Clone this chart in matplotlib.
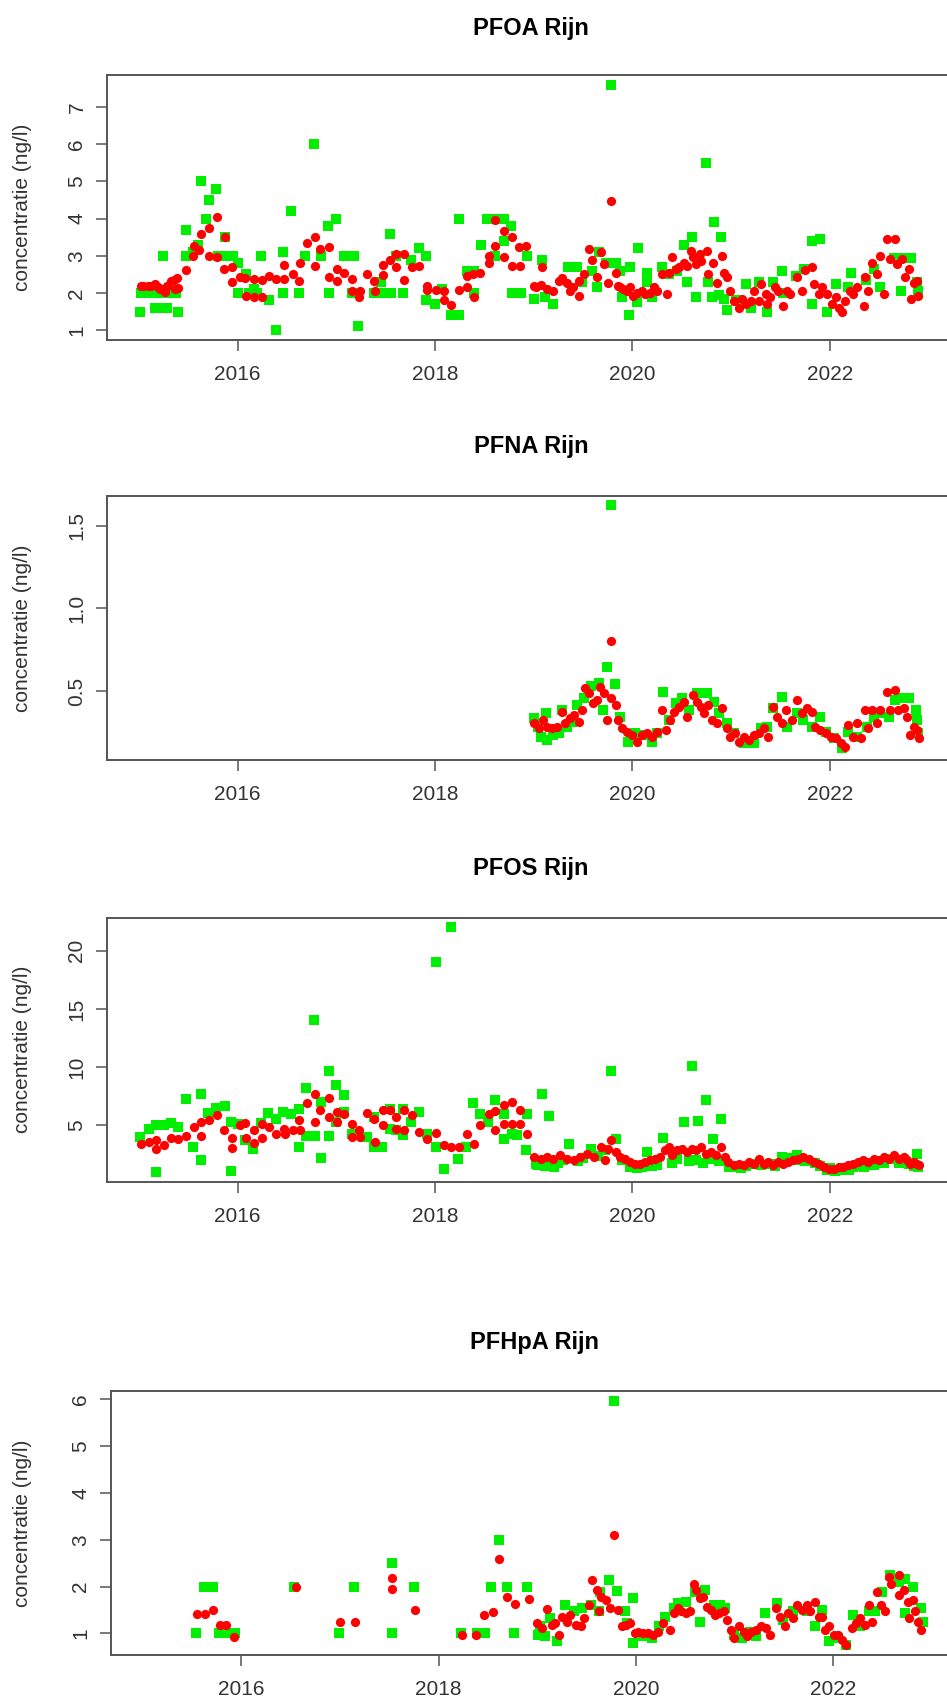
import numpy as np
import matplotlib
matplotlib.use("Agg")
import matplotlib.pyplot as plt

plt.rcParams['font.family'] = ['Liberation Sans', 'DejaVu Sans']

# ---- PFOA Rijn ----
pfoa_groen_jaar = [2015.01, 2015.02, 2015.08, 2015.12, 2015.16, 2015.20, 2015.22, 2015.24, 2015.28, 2015.30,
                   2015.35, 2015.38, 2015.40, 2015.48, 2015.48, 2015.55, 2015.60, 2015.63, 2015.68, 2015.71,
                   2015.78, 2015.80, 2015.87, 2015.90, 2015.95, 2016.00, 2016.00, 2016.09, 2016.12, 2016.17,
                   2016.20, 2016.24, 2016.32, 2016.39, 2016.46, 2016.46, 2016.54, 2016.62, 2016.68, 2016.77,
                   2016.85, 2016.92, 2016.93, 2017.00, 2017.08, 2017.12, 2017.16, 2017.18, 2017.22, 2017.38,
                   2017.45, 2017.47, 2017.54, 2017.55, 2017.61, 2017.68, 2017.76, 2017.84, 2017.91, 2017.91,
                   2018.00, 2018.07, 2018.16, 2018.24, 2018.24, 2018.33, 2018.40, 2018.40, 2018.47, 2018.53,
                   2018.61, 2018.61, 2018.70, 2018.70, 2018.77, 2018.78, 2018.86, 2018.87, 2018.93, 2019.00,
                   2019.09, 2019.12, 2019.20, 2019.35, 2019.44, 2019.49, 2019.59, 2019.64, 2019.66, 2019.73,
                   2019.78, 2019.83, 2019.88, 2019.90, 2019.97, 2019.98, 2020.05, 2020.06, 2020.15, 2020.15,
                   2020.20, 2020.30, 2020.37, 2020.45, 2020.52, 2020.55, 2020.60, 2020.65, 2020.75, 2020.77,
                   2020.81, 2020.83, 2020.88, 2020.90, 2020.93, 2020.96, 2021.05, 2021.15, 2021.20, 2021.28,
                   2021.36, 2021.43, 2021.52, 2021.53, 2021.66, 2021.74, 2021.82, 2021.82, 2021.90, 2021.97,
                   2022.06, 2022.19, 2022.22, 2022.37, 2022.45, 2022.51, 2022.65, 2022.72, 2022.74, 2022.82,
                   2022.88, 2022.90]
pfoa_groen_val = [1.5, 2.0, 2.0, 2.0, 1.6, 2.0, 1.6, 3.0, 1.6, 2.0,
                  2.0, 2.0, 1.5, 3.7, 3.0, 3.1, 3.3, 5.0, 4.0, 4.5,
                  4.8, 3.0, 3.5, 3.0, 3.0, 2.8, 2.0, 2.5, 2.0, 2.1,
                  2.0, 3.0, 1.8, 1.0, 3.1, 2.0, 4.2, 2.0, 3.0, 6.0,
                  3.0, 3.8, 2.0, 4.0, 3.0, 3.0, 2.0, 3.0, 1.1, 2.0,
                  2.3, 2.0, 3.6, 2.0, 3.0, 2.0, 2.9, 3.2, 3.0, 1.8,
                  1.7, 2.1, 1.4, 1.4, 4.0, 2.6, 2.6, 2.0, 3.3, 4.0,
                  4.0, 3.0, 4.0, 3.4, 3.8, 2.0, 2.0, 2.0, 3.0, 1.85,
                  2.9, 1.9, 1.7, 2.7, 2.7, 2.3, 2.6, 2.15, 3.1, 2.8,
                  7.6, 2.8, 2.6, 1.9, 1.4, 2.7, 1.75, 3.2, 2.55, 2.3,
                  1.9, 2.7, 2.5, 2.6, 3.3, 2.3, 3.5, 1.9, 5.5, 2.3,
                  1.9, 3.9, 1.95, 3.5, 1.85, 1.55, 1.8, 2.25, 1.6, 2.3,
                  1.5, 2.3, 2.6, 2.0, 2.45, 2.65, 3.4, 1.7, 3.45, 1.5,
                  2.25, 2.15, 2.55, 2.35, 2.65, 2.15, 2.95, 2.05, 2.95, 2.95,
                  2.3, 2.05]
pfoa_rood_jaar = [2015.02, 2015.04, 2015.09, 2015.12, 2015.16, 2015.19, 2015.21, 2015.23, 2015.26, 2015.29,
                  2015.33, 2015.36, 2015.37, 2015.39, 2015.40, 2015.48, 2015.55, 2015.56, 2015.61, 2015.63,
                  2015.71, 2015.71, 2015.79, 2015.79, 2015.86, 2015.87, 2015.94, 2015.94, 2016.02, 2016.08,
                  2016.09, 2016.17, 2016.17, 2016.25, 2016.25, 2016.32, 2016.39, 2016.47, 2016.47, 2016.56,
                  2016.62, 2016.63, 2016.70, 2016.78, 2016.78, 2016.84, 2016.93, 2016.93, 2017.01, 2017.01,
                  2017.08, 2017.16, 2017.16, 2017.23, 2017.24, 2017.31, 2017.38, 2017.39, 2017.47, 2017.47,
                  2017.54, 2017.61, 2017.61, 2017.69, 2017.69, 2017.77, 2017.84, 2017.92, 2017.92, 2018.01,
                  2018.09, 2018.09, 2018.16, 2018.24, 2018.32, 2018.32, 2018.39, 2018.40, 2018.46, 2018.55,
                  2018.55, 2018.61, 2018.61, 2018.70, 2018.70, 2018.78, 2018.78, 2018.85, 2018.86, 2018.92,
                  2019.00, 2019.02, 2019.07, 2019.09, 2019.14, 2019.20, 2019.26, 2019.29, 2019.34, 2019.37,
                  2019.40, 2019.46, 2019.46, 2019.51, 2019.56, 2019.59, 2019.64, 2019.68, 2019.71, 2019.75,
                  2019.78, 2019.83, 2019.86, 2019.88, 2019.91, 2019.95, 2019.98, 2020.01, 2020.05, 2020.10,
                  2020.13, 2020.18, 2020.22, 2020.25, 2020.30, 2020.35, 2020.37, 2020.40, 2020.44, 2020.47,
                  2020.52, 2020.55, 2020.59, 2020.62, 2020.65, 2020.69, 2020.70, 2020.76, 2020.77, 2020.82,
                  2020.86, 2020.91, 2020.93, 2020.96, 2020.99, 2021.03, 2021.08, 2021.11, 2021.15, 2021.20,
                  2021.23, 2021.28, 2021.30, 2021.35, 2021.36, 2021.40, 2021.45, 2021.48, 2021.53, 2021.57,
                  2021.60, 2021.67, 2021.72, 2021.75, 2021.82, 2021.84, 2021.89, 2021.92, 2021.97, 2022.02,
                  2022.06, 2022.09, 2022.12, 2022.16, 2022.21, 2022.24, 2022.28, 2022.35, 2022.36, 2022.39,
                  2022.43, 2022.48, 2022.51, 2022.55, 2022.58, 2022.61, 2022.66, 2022.68, 2022.73, 2022.76,
                  2022.80, 2022.82, 2022.85, 2022.88, 2022.90]
pfoa_rood_val = [2.18, 2.2, 2.18, 2.2, 2.24, 2.15, 2.1, 2.1, 2.04, 2.2,
                 2.33, 2.35, 2.1, 2.4, 2.13, 2.63, 3.0, 3.26, 3.17, 3.6,
                 3.75, 3.0, 4.04, 2.96, 2.64, 3.5, 2.69, 2.3, 2.42, 2.4,
                 1.93, 2.37, 1.9, 2.36, 1.9, 2.45, 2.37, 2.37, 2.76, 2.51,
                 2.33, 2.8, 3.34, 3.5, 2.72, 3.18, 3.23, 2.44, 2.33, 2.64,
                 2.55, 2.37, 2.06, 1.9, 2.06, 2.51, 2.33, 2.06, 2.49, 2.76,
                 2.9, 2.69, 3.05, 3.05, 2.36, 2.69, 2.72, 2.2, 2.08, 2.08,
                 2.06, 1.82, 1.67, 2.08, 2.47, 2.15, 2.51, 1.88, 2.54, 2.8,
                 3.0, 3.27, 3.96, 3.68, 2.96, 3.5, 2.73, 3.23, 2.72, 3.26,
                 2.2, 2.15, 2.22, 2.69, 2.12, 2.06, 2.33, 2.4, 2.28, 2.06,
                 2.15, 2.33, 1.93, 2.51, 3.18, 2.89, 2.42, 3.09, 2.78, 2.28,
                 4.47, 2.55, 2.2, 2.15, 2.1, 2.06, 2.15, 1.93, 2.0, 2.06,
                 1.97, 2.0, 2.15, 2.06, 2.51, 1.97, 2.55, 2.96, 2.64, 2.69,
                 2.82, 2.73, 3.14, 2.96, 2.78, 3.05, 2.87, 3.14, 2.51, 2.82,
                 2.28, 3.0, 2.55, 2.42, 2.06, 1.79, 1.61, 1.84, 1.7, 1.79,
                 2.06, 1.79, 2.24, 1.97, 1.7, 1.88, 2.15, 2.06, 1.66, 2.06,
                 1.97, 2.44, 2.06, 2.62, 2.69, 2.24, 1.97, 2.15, 1.97, 1.7,
                 1.88, 1.61, 1.48, 1.79, 2.06, 1.97, 2.15, 1.66, 2.42, 2.06,
                 2.82, 2.51, 3.0, 1.97, 3.45, 2.91, 3.45, 2.78, 2.91, 2.42,
                 2.64, 1.84, 2.28, 2.33, 1.93]

# ---- PFNA Rijn ----
pfna_groen_jaar = [2019.00, 2019.04, 2019.07, 2019.13, 2019.14, 2019.20, 2019.26, 2019.29, 2019.34, 2019.39,
                   2019.44, 2019.51, 2019.58, 2019.66, 2019.70, 2019.74, 2019.78, 2019.82, 2019.88, 2019.96,
                   2020.03, 2020.11, 2020.20, 2020.25, 2020.31, 2020.37, 2020.44, 2020.50, 2020.57, 2020.66,
                   2020.76, 2020.83, 2020.88, 2020.96, 2021.03, 2021.13, 2021.23, 2021.30, 2021.37, 2021.43,
                   2021.52, 2021.57, 2021.67, 2021.73, 2021.82, 2021.90, 2021.96, 2022.04, 2022.12, 2022.19,
                   2022.28, 2022.38, 2022.45, 2022.51, 2022.60, 2022.66, 2022.71, 2022.80, 2022.87, 2022.88,
                   2022.90]
pfna_groen_val = [0.334, 0.284, 0.223, 0.365, 0.203, 0.233, 0.243, 0.385, 0.284, 0.314,
                  0.415, 0.456, 0.532, 0.546, 0.385, 0.643, 1.627, 0.54, 0.344, 0.193,
                  0.243, 0.233, 0.193, 0.243, 0.492, 0.324, 0.425, 0.456, 0.385, 0.486,
                  0.486, 0.435, 0.365, 0.304, 0.243, 0.183, 0.183, 0.274, 0.284, 0.395,
                  0.466, 0.284, 0.365, 0.324, 0.284, 0.34, 0.253, 0.213, 0.153, 0.253,
                  0.223, 0.284, 0.344, 0.365, 0.344, 0.446, 0.456, 0.456, 0.385, 0.324,
                  0.243]
pfna_rood_jaar = [2019.00, 2019.05, 2019.10, 2019.14, 2019.19, 2019.24, 2019.29, 2019.32, 2019.37, 2019.41,
                  2019.46, 2019.49, 2019.52, 2019.56, 2019.60, 2019.64, 2019.67, 2019.71, 2019.74, 2019.78,
                  2019.78, 2019.83, 2019.86, 2019.90, 2019.95, 2020.00, 2020.05, 2020.10, 2020.15, 2020.20,
                  2020.25, 2020.30, 2020.34, 2020.38, 2020.42, 2020.47, 2020.52, 2020.55, 2020.62, 2020.66,
                  2020.70, 2020.73, 2020.77, 2020.81, 2020.86, 2020.91, 2020.96, 2020.99, 2021.04, 2021.08,
                  2021.13, 2021.18, 2021.23, 2021.28, 2021.33, 2021.38, 2021.43, 2021.47, 2021.52, 2021.56,
                  2021.62, 2021.67, 2021.72, 2021.77, 2021.82, 2021.85, 2021.90, 2021.96, 2022.01, 2022.06,
                  2022.11, 2022.16, 2022.19, 2022.24, 2022.28, 2022.32, 2022.36, 2022.39, 2022.43, 2022.48,
                  2022.51, 2022.58, 2022.61, 2022.66, 2022.69, 2022.75, 2022.78, 2022.81, 2022.85, 2022.88,
                  2022.91]
pfna_rood_val = [0.304, 0.274, 0.324, 0.284, 0.274, 0.284, 0.375, 0.304, 0.334, 0.355,
                 0.314, 0.385, 0.516, 0.486, 0.425, 0.446, 0.526, 0.486, 0.324, 0.456,
                 0.80, 0.415, 0.324, 0.274, 0.253, 0.233, 0.193, 0.233, 0.243, 0.223,
                 0.253, 0.385, 0.264, 0.324, 0.375, 0.405, 0.435, 0.344, 0.476, 0.435,
                 0.405, 0.365, 0.415, 0.324, 0.304, 0.395, 0.274, 0.223, 0.243, 0.193,
                 0.223, 0.203, 0.233, 0.243, 0.274, 0.223, 0.405, 0.344, 0.304, 0.385,
                 0.324, 0.446, 0.365, 0.395, 0.375, 0.284, 0.264, 0.243, 0.223, 0.213,
                 0.183, 0.163, 0.294, 0.223, 0.304, 0.213, 0.385, 0.274, 0.385, 0.304,
                 0.385, 0.496, 0.385, 0.506, 0.385, 0.395, 0.344, 0.233, 0.284, 0.264,
                 0.213]

# ---- PFOS Rijn ----
pfos_groen_jaar = [2015.01, 2015.10, 2015.17, 2015.17, 2015.25, 2015.33, 2015.40, 2015.48, 2015.55, 2015.63,
                   2015.63, 2015.70, 2015.78, 2015.87, 2015.93, 2015.93, 2016.00, 2016.08, 2016.16, 2016.24,
                   2016.31, 2016.39, 2016.46, 2016.54, 2016.62, 2016.62, 2016.69, 2016.69, 2016.77, 2016.78,
                   2016.85, 2016.85, 2016.93, 2016.93, 2017.00, 2017.00, 2017.08, 2017.08, 2017.16, 2017.23,
                   2017.31, 2017.38, 2017.38, 2017.46, 2017.54, 2017.54, 2017.61, 2017.68, 2017.68, 2017.76,
                   2017.84, 2017.92, 2018.01, 2018.01, 2018.09, 2018.16, 2018.23, 2018.31, 2018.39, 2018.46,
                   2018.54, 2018.61, 2018.70, 2018.70, 2018.78, 2018.83, 2018.92, 2018.93, 2019.02, 2019.04,
                   2019.09, 2019.12, 2019.16, 2019.21, 2019.25, 2019.30, 2019.36, 2019.45, 2019.50, 2019.58,
                   2019.65, 2019.72, 2019.78, 2019.83, 2019.90, 2019.98, 2020.05, 2020.10, 2020.15, 2020.20,
                   2020.25, 2020.31, 2020.40, 2020.45, 2020.52, 2020.57, 2020.60, 2020.65, 2020.67, 2020.72,
                   2020.75, 2020.78, 2020.82, 2020.88, 2020.90, 2020.98, 2021.05, 2021.10, 2021.15, 2021.23,
                   2021.30, 2021.40, 2021.45, 2021.52, 2021.60, 2021.67, 2021.70, 2021.75, 2021.85, 2021.90,
                   2021.97, 2022.00, 2022.05, 2022.10, 2022.20, 2022.24, 2022.30, 2022.35, 2022.45, 2022.55,
                   2022.60, 2022.70, 2022.75, 2022.80, 2022.85, 2022.88, 2022.90]
pfos_groen_val = [4.0, 4.7, 1.0, 5.0, 5.0, 5.2, 4.86, 7.24, 3.14, 7.73,
                  2.05, 6.1, 6.5, 6.66, 1.04, 5.29, 5.14, 3.7, 3.0, 5.2,
                  6.1, 5.57, 6.15, 6.0, 6.43, 3.14, 8.24, 4.08, 14.04, 4.08,
                  7.0, 2.19, 9.68, 4.08, 8.44, 5.29, 7.64, 6.15, 4.28, 4.14,
                  4.0, 3.14, 5.72, 3.14, 6.43, 4.71, 4.57, 6.43, 4.14, 5.29,
                  6.15, 4.28, 19.06, 3.14, 1.27, 22.07, 2.13, 3.14, 6.95, 6.0,
                  5.29, 7.15, 6.0, 3.8, 4.28, 4.14, 2.85, 6.0, 1.7, 1.6,
                  7.67, 1.5, 5.8, 1.41, 1.8, 2.0, 3.4, 1.9, 2.2, 2.99,
                  2.4, 2.9, 9.68, 3.85, 2.0, 1.41, 1.3, 1.4, 2.7, 1.5,
                  1.6, 3.9, 1.8, 2.1, 5.29, 1.9, 10.1, 2.0, 5.37, 1.8,
                  7.15, 2.1, 3.85, 1.9, 5.57, 1.41, 1.4, 1.3, 1.5, 1.7,
                  1.6, 1.7, 1.5, 2.27, 2.2, 2.42, 2.0, 1.9, 1.8, 1.5,
                  1.13, 1.3, 1.1, 1.2, 1.2, 1.41, 1.5, 1.4, 1.6, 1.8,
                  2.1, 1.8, 2.0, 1.7, 1.5, 2.5, 1.41]
pfos_rood_jaar = [2015.02, 2015.10, 2015.17, 2015.17, 2015.25, 2015.33, 2015.40, 2015.48, 2015.56, 2015.63,
                  2015.63, 2015.71, 2015.79, 2015.86, 2015.94, 2015.94, 2016.02, 2016.08, 2016.09, 2016.17,
                  2016.17, 2016.25, 2016.25, 2016.32, 2016.39, 2016.47, 2016.48, 2016.56, 2016.62, 2016.63,
                  2016.70, 2016.78, 2016.78, 2016.84, 2016.93, 2016.93, 2017.01, 2017.01, 2017.08, 2017.16,
                  2017.16, 2017.23, 2017.24, 2017.31, 2017.38, 2017.39, 2017.47, 2017.47, 2017.54, 2017.61,
                  2017.61, 2017.69, 2017.69, 2017.77, 2017.84, 2017.92, 2018.01, 2018.09, 2018.16, 2018.24,
                  2018.32, 2018.40, 2018.46, 2018.55, 2018.61, 2018.61, 2018.70, 2018.70, 2018.78, 2018.78,
                  2018.86, 2018.86, 2018.93, 2019.00, 2019.07, 2019.14, 2019.20, 2019.27, 2019.34, 2019.41,
                  2019.47, 2019.54, 2019.61, 2019.68, 2019.72, 2019.75, 2019.78, 2019.83, 2019.88, 2019.93,
                  2019.98, 2020.03, 2020.08, 2020.13, 2020.18, 2020.23, 2020.28, 2020.33, 2020.37, 2020.40,
                  2020.45, 2020.50, 2020.55, 2020.60, 2020.65, 2020.70, 2020.75, 2020.80, 2020.85, 2020.90,
                  2020.94, 2020.97, 2021.03, 2021.08, 2021.13, 2021.18, 2021.23, 2021.28, 2021.33, 2021.38,
                  2021.43, 2021.48, 2021.53, 2021.58, 2021.63, 2021.68, 2021.73, 2021.79, 2021.84, 2021.89,
                  2021.94, 2021.99, 2022.04, 2022.09, 2022.14, 2022.19, 2022.24, 2022.29, 2022.34, 2022.39,
                  2022.45, 2022.50, 2022.55, 2022.60, 2022.65, 2022.70, 2022.75, 2022.78, 2022.81, 2022.85,
                  2022.88, 2022.91]
pfos_rood_val = [3.42, 3.57, 3.0, 3.71, 3.28, 3.94, 3.8, 4.08, 4.86, 4.08,
                 5.29, 5.43, 5.86, 4.57, 3.91, 3.08, 5.0, 5.2, 3.94, 4.57,
                 3.48, 5.14, 3.94, 4.86, 4.28, 4.71, 4.28, 4.57, 5.49, 4.57,
                 6.95, 7.73, 5.29, 6.29, 7.35, 5.72, 6.15, 5.29, 6.0, 4.0,
                 5.14, 4.57, 4.0, 6.1, 5.57, 3.57, 6.29, 5.0, 6.29, 4.71,
                 5.72, 6.29, 4.57, 5.86, 4.43, 3.85, 4.37, 3.28, 3.14, 3.14,
                 4.28, 3.42, 5.0, 6.0, 6.2, 4.57, 6.72, 5.14, 7.0, 5.14,
                 6.29, 5.14, 4.28, 2.27, 2.13, 2.27, 2.13, 2.42, 2.13, 1.99,
                 2.27, 2.56, 2.27, 3.14, 1.99, 2.99, 3.71, 2.7, 2.27, 2.13,
                 1.84, 1.7, 1.7, 1.84, 1.99, 2.13, 2.27, 2.85, 3.14, 2.42,
                 2.85, 2.99, 2.7, 2.99, 2.85, 3.14, 2.56, 2.7, 2.42, 3.14,
                 2.27, 1.84, 1.56, 1.7, 1.56, 1.84, 1.7, 2.13, 1.7, 1.84,
                 1.56, 1.84, 1.7, 1.84, 1.99, 2.13, 2.27, 2.13, 1.84, 1.7,
                 1.41, 1.27, 1.27, 1.41, 1.41, 1.56, 1.7, 1.84, 1.99, 1.84,
                 2.13, 1.99, 2.27, 2.13, 2.42, 2.13, 2.27, 1.99, 1.7, 1.84,
                 1.7, 1.56]

# ---- PFHpA Rijn ----
pfhpa_groen_jaar = [2015.54, 2015.62, 2015.71, 2015.77, 2015.86, 2015.94, 2016.53, 2016.99, 2017.14, 2017.53,
                    2017.53, 2017.75, 2018.23, 2018.39, 2018.47, 2018.53, 2018.61, 2018.69, 2018.76, 2018.90,
                    2019.01, 2019.03, 2019.08, 2019.13, 2019.20, 2019.28, 2019.37, 2019.45, 2019.54, 2019.62,
                    2019.64, 2019.73, 2019.78, 2019.81, 2019.89, 2019.91, 2019.97, 2019.97, 2020.07, 2020.16,
                    2020.23, 2020.29, 2020.38, 2020.43, 2020.51, 2020.60, 2020.65, 2020.70, 2020.79, 2020.85,
                    2020.90, 2020.99, 2021.07, 2021.16, 2021.22, 2021.31, 2021.43, 2021.49, 2021.59, 2021.73,
                    2021.81, 2021.88, 2021.96, 2022.05, 2022.13, 2022.20, 2022.27, 2022.36, 2022.42, 2022.49,
                    2022.57, 2022.66, 2022.73, 2022.73, 2022.81, 2022.89, 2022.91]
pfhpa_groen_val = [1.0, 2.0, 2.0, 1.0, 1.0, 1.0, 2.0, 1.0, 2.0, 2.5,
                   1.0, 2.0, 1.0, 1.0, 1.0, 2.0, 3.0, 2.0, 1.0, 2.0,
                   0.97, 1.15, 0.94, 1.32, 0.83, 1.61, 1.47, 1.54, 1.61, 1.47,
                   1.89, 2.15, 5.96, 1.9, 1.47, 1.22, 1.76, 0.8, 0.94, 0.9,
                   1.15, 1.36, 1.54, 1.64, 1.68, 1.89, 1.25, 1.92, 1.61, 1.61,
                   1.54, 0.97, 0.9, 1.04, 0.94, 1.43, 1.64, 1.29, 1.47, 1.47,
                   1.15, 1.5, 0.83, 0.9, 0.76, 1.39, 1.15, 1.47, 1.47, 1.89,
                   2.24, 2.1, 2.17, 1.43, 2.0, 1.54, 1.25]
pfhpa_rood_jaar = [2015.55, 2015.63, 2015.71, 2015.78, 2015.85, 2015.93, 2016.55, 2017.00, 2017.15, 2017.53,
                   2017.53, 2017.76, 2018.24, 2018.38, 2018.46, 2018.55, 2018.61, 2018.69, 2018.77, 2018.92,
                   2019.00, 2019.05, 2019.10, 2019.15, 2019.18, 2019.22, 2019.25, 2019.30, 2019.33, 2019.39,
                   2019.44, 2019.47, 2019.52, 2019.55, 2019.60, 2019.63, 2019.65, 2019.70, 2019.74, 2019.78,
                   2019.82, 2019.86, 2019.90, 2019.94, 2019.99, 2020.02, 2020.07, 2020.12, 2020.17, 2020.22,
                   2020.27, 2020.34, 2020.38, 2020.43, 2020.46, 2020.51, 2020.55, 2020.59, 2020.61, 2020.65,
                   2020.68, 2020.72, 2020.76, 2020.80, 2020.84, 2020.89, 2020.92, 2020.96, 2020.99, 2021.04,
                   2021.09, 2021.12, 2021.17, 2021.22, 2021.27, 2021.32, 2021.36, 2021.42, 2021.46, 2021.51,
                   2021.54, 2021.59, 2021.63, 2021.68, 2021.73, 2021.76, 2021.81, 2021.85, 2021.88, 2021.92,
                   2021.96, 2022.01, 2022.05, 2022.09, 2022.13, 2022.19, 2022.23, 2022.27, 2022.32, 2022.36,
                   2022.39, 2022.44, 2022.48, 2022.52, 2022.56, 2022.58, 2022.66, 2022.67, 2022.72, 2022.76,
                   2022.77, 2022.81, 2022.83, 2022.86, 2022.89]
pfhpa_rood_val = [1.42, 1.42, 1.51, 1.18, 1.18, 0.92, 2.0, 1.25, 1.25, 2.18,
                  1.94, 1.49, 0.97, 0.97, 1.39, 1.45, 2.59, 1.77, 1.62, 1.73,
                  1.22, 1.11, 1.52, 1.18, 1.22, 0.97, 1.36, 1.25, 1.39, 1.18,
                  1.15, 1.32, 1.61, 2.15, 1.92, 1.47, 1.78, 1.71, 1.54, 3.1,
                  1.5, 1.15, 1.18, 1.22, 1.0, 1.04, 1.0, 1.0, 0.97, 1.04,
                  1.22, 1.08, 1.43, 1.54, 1.47, 1.43, 1.47, 2.05, 1.92, 1.75,
                  1.78, 1.57, 1.5, 1.39, 1.43, 1.47, 1.29, 1.08, 0.9, 1.15,
                  1.04, 0.94, 1.04, 1.08, 1.15, 1.11, 0.97, 1.54, 1.36, 1.15,
                  1.43, 1.32, 1.61, 1.5, 1.61, 1.47, 1.68, 1.36, 1.36, 1.08,
                  1.15, 0.97, 0.97, 0.87, 0.76, 1.11, 1.22, 1.32, 1.18, 1.61,
                  1.25, 1.89, 1.61, 1.47, 2.2, 2.06, 2.24, 1.82, 1.92, 1.68,
                  1.32, 1.71, 1.47, 1.25, 1.08]

titels = ["PFOA Rijn", "PFNA Rijn", "PFOS Rijn", "PFHpA Rijn"]
jaar_ticks = [2016, 2018, 2020, 2022]

W, H = 947, 1704
fig = plt.figure(figsize=(W / 100, H / 100), dpi=100)

# panels: (left, top, bottom, title_y, ylim, yticks, yticklabels) in pixels
panels = [
    (107.3, 75.0, 340.0, 28, (0.736, 7.864), [1, 2, 3, 4, 5, 6, 7], None),
    (107.3, 496.0, 760.0, 447, (0.082, 1.68), [0.5, 1.0, 1.5], ["0.5", "1.0", "1.5"]),
    (107.3, 917.7, 1181.7, 868, (0.16, 22.84), [5, 10, 15, 20], None),
    (111.0, 1390.7, 1655.0, 1342, (0.54, 6.18), [1, 2, 3, 4, 5, 6], None),
]
data = [
    (pfoa_groen_jaar, pfoa_groen_val, pfoa_rood_jaar, pfoa_rood_val),
    (pfna_groen_jaar, pfna_groen_val, pfna_rood_jaar, pfna_rood_val),
    (pfos_groen_jaar, pfos_groen_val, pfos_rood_jaar, pfos_rood_val),
    (pfhpa_groen_jaar, pfhpa_groen_val, pfhpa_rood_jaar, pfhpa_rood_val),
]
breedte = 847.7
tekst = '#333333'

for i, (l, t, b, ty, ylim, yt, ytl) in enumerate(panels):
    ax = fig.add_axes([l / W, 1 - b / H, breedte / W, (b - t) / H])
    gx, gy, rx, ry = data[i]
    ax.scatter(gx, gy, marker='s', s=44, color='#00ee00', linewidths=0, zorder=2)
    ax.scatter(rx, ry, marker='o', s=44, color='#ff0000', linewidths=0, zorder=3)
    ax.set_xlim(2014.68, 2023.27)
    ax.set_ylim(*ylim)
    ax.set_xticks(jaar_ticks)
    ax.set_yticks(yt)
    if ytl:
        ax.set_yticklabels(ytl)
    for sp in ax.spines.values():
        sp.set_color('#555555')
        sp.set_linewidth(1.4)
    ax.tick_params(axis='both', length=8, width=1.1, color='#555555',
                   labelsize=15, labelcolor=tekst)
    ax.tick_params(axis='x', pad=10)
    ax.tick_params(axis='y', pad=7, labelrotation=90)
    for lab in ax.get_yticklabels():
        lab.set_va('center')
    fig.text((l + breedte / 2) / W, 1 - ty / H, titels[i], ha='center', va='center',
             fontsize=17, fontweight='bold', color='black')
    fig.text(23 / W, 1 - (t + b) / 2 / H, "concentratie (ng/l)", rotation=90,
             ha='center', va='center', fontsize=15, color=tekst)

fig.savefig("out.png", dpi=100)
